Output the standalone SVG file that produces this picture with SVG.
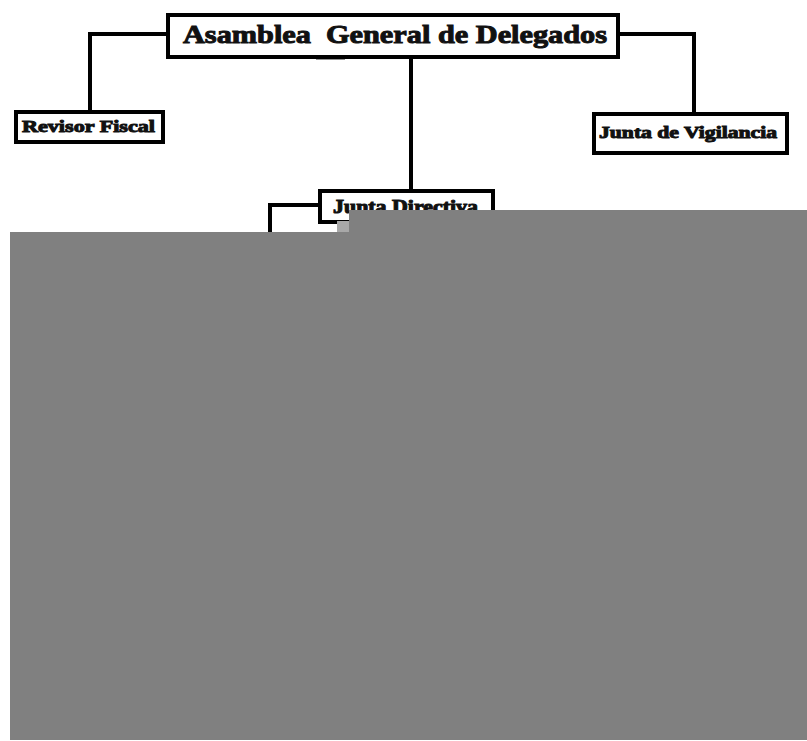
<svg xmlns="http://www.w3.org/2000/svg" width="807" height="741" viewBox="0 0 807 741">
<style>
.box{fill:#fff;stroke:#000;stroke-width:4}
.lbl{font-family:"Liberation Serif","DejaVu Serif",serif;font-weight:900;fill:#111;stroke:#111;stroke-width:1;white-space:pre}
.con{fill:none;stroke:#000;stroke-width:4}
</style>
<rect width="807" height="741" fill="#fff"/>
<g id="connectors">
<path class="con" d="M168,34 H90 V112"/>
<path class="con" d="M618,34 H694 V114"/>
<path class="con" d="M411,57 V191"/>
<path class="con" d="M320,205 H270 V240"/>
<path d="M316,58 H345" stroke="#222" stroke-width="3"/>
</g>
<g id="asamblea">
<rect class="box" x="168" y="15" width="450" height="42"/>
<text class="lbl" x="183" y="43" font-size="26" textLength="424" lengthAdjust="spacingAndGlyphs" xml:space="preserve">Asamblea  General de Delegados</text>
</g>
<g id="revisor">
<rect class="box" x="16" y="112" width="147" height="30"/>
<text class="lbl" x="22" y="132" font-size="17" textLength="133" lengthAdjust="spacingAndGlyphs">Revisor Fiscal</text>
</g>
<g id="vigilancia">
<rect class="box" x="594" y="114" width="193" height="39"/>
<text class="lbl" x="599" y="138" font-size="17" textLength="178" lengthAdjust="spacingAndGlyphs">Junta de Vigilancia</text>
</g>
<g id="directiva">
<rect class="box" x="320" y="191" width="173" height="31"/>
<text class="lbl" x="333" y="213" font-size="18" textLength="145" lengthAdjust="spacingAndGlyphs">Junta Directiva</text>
</g>
<rect x="337" y="221" width="13" height="12" fill="#a8a8a8"/>
<rect x="349" y="210" width="458" height="23" fill="#808080"/>
<rect x="10" y="232" width="797" height="508" fill="#808080"/>
</svg>
